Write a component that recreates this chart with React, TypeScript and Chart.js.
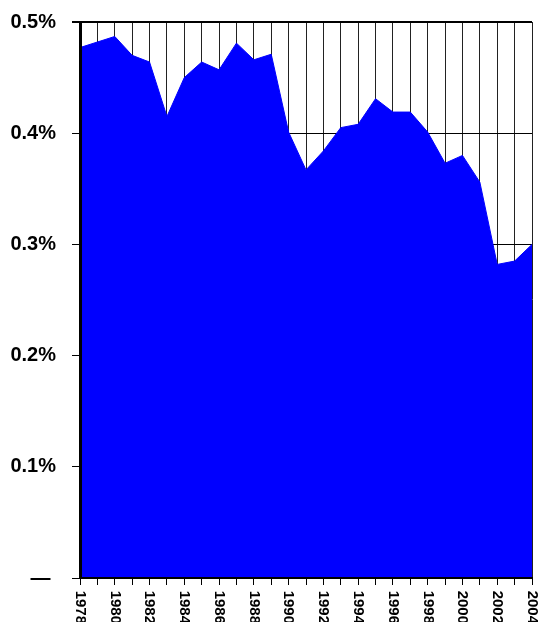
import React, { useEffect, useRef } from "react";
import { Chart, registerables } from "chart.js";

Chart.register(...registerables);

const years: string[] = [
  "1978", "1979", "1980", "1981", "1982", "1983", "1984", "1985", "1986",
  "1987", "1988", "1989", "1990", "1991", "1992", "1993", "1994", "1995",
  "1996", "1997", "1998", "1999", "2000", "2001", "2002", "2003", "2004",
];

// share, in percent
const shareValues: number[] = [
  0.477, 0.482, 0.487, 0.470, 0.464, 0.415, 0.450, 0.464, 0.457,
  0.481, 0.466, 0.471, 0.401, 0.367, 0.384, 0.405, 0.408, 0.431,
  0.419, 0.419, 0.401, 0.373, 0.380, 0.356, 0.282, 0.285, 0.300,
];

const yTickValues: number[] = [0, 0.1, 0.2, 0.3, 0.4, 0.5];
const yTickLabels: string[] = ["— ", "0.1%", "0.2%", "0.3%", "0.4%", "0.5%"];

const FONT_FAMILY = "'Liberation Sans', Arial, Helvetica, sans-serif";

export default function App() {
  const canvasRef = useRef<HTMLCanvasElement | null>(null);

  useEffect(() => {
    if (!canvasRef.current) return;
    const chart = new Chart(canvasRef.current, {
      type: "line",
      data: {
        labels: years,
        datasets: [
          {
            data: shareValues,
            fill: "origin",
            backgroundColor: "#0000FF",
            borderColor: "#0000FF",
            borderWidth: 1,
            pointRadius: 0,
            tension: 0,
          },
        ],
      },
      options: {
        animation: false,
        responsive: true,
        maintainAspectRatio: false,
        events: [],
        layout: { padding: { top: 22, right: 13, left: 0, bottom: 0 } },
        plugins: {
          legend: { display: false },
          tooltip: { enabled: false },
        },
        scales: {
          x: {
            type: "category",
            offset: false,
            afterFit: (scale: any) => {
              scale.height = 44;
              scale.paddingLeft = 0;
              scale.paddingRight = 0;
            },
            grid: {
              color: "#222",
              lineWidth: 1,
              drawTicks: true,
              tickLength: 7,
              tickColor: "#000",
            },
            border: { display: true, color: "#000", width: 2, z: 1 },
            ticks: {
              autoSkip: false,
              minRotation: -90,
              maxRotation: -90,
              padding: 39,
              color: "#000",
              font: { family: FONT_FAMILY, size: 15, weight: "bold" },
              callback: (_v: any, index: number) =>
                index % 2 === 0 ? years[index] : "",
            },
          },
          y: {
            type: "linear",
            min: 0,
            max: 0.5,
            afterFit: (scale: any) => {
              scale.width = 80;
              scale.paddingTop = 0;
              scale.paddingBottom = 0;
            },
            afterBuildTicks: (scale: any) => {
              scale.ticks = yTickValues.map((v) => ({ value: v }));
            },
            grid: {
              color: "#000",
              lineWidth: (ctx: any) =>
                ctx.tick && Math.abs(ctx.tick.value - 0.5) < 1e-9 ? 2 : 1,
              drawTicks: true,
              tickLength: 8,
            },
            border: { display: true, color: "#000", width: 3, z: 1 },
            ticks: {
              padding: 16,
              color: "#000",
              font: { family: FONT_FAMILY, size: 20, weight: "bold" },
              callback: (v: any) => {
                const i = yTickValues.findIndex((t) => Math.abs(t - Number(v)) < 1e-9);
                return i >= 0 ? yTickLabels[i] : "";
              },
            },
          },
        },
      },
    } as any);
    return () => chart.destroy();
  }, []);

  return (
    <div style={{ position: "absolute", left: 0, top: 0, width: 545, height: 622 }}>
      <canvas ref={canvasRef} />
    </div>
  );
}
